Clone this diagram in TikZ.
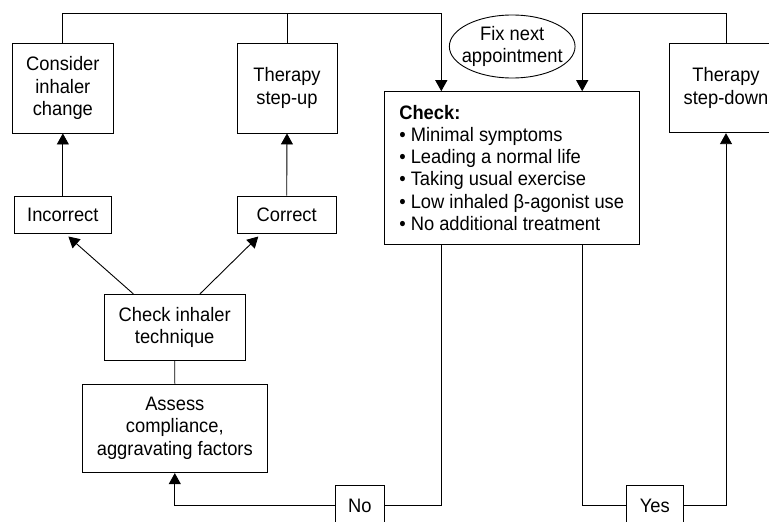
\documentclass[tikz,border=0pt]{standalone}
\usepackage{fontspec}
\setmainfont{Liberation Sans}[FakeStretch=0.94]
\usetikzlibrary{arrows.meta,shapes.geometric,calc}
\begin{document}
\begin{tikzpicture}[x=1pt,y=-1pt,
  every node/.style={font=\fontsize{19.5}{22.3}\selectfont, line width=0.9pt, inner sep=0pt},
  box/.style={draw, rectangle, align=center},
  conn/.style={line width=0.9pt},
  arr/.style={conn, -{Triangle[length=11pt,width=12pt]}}]
\useasboundingbox (0,0) rectangle (769,522);
\clip (0,0) rectangle (769,522);

% boxes
\node[box, minimum width=100.3pt, minimum height=90pt] (cons) at (62.85,88) {Consider\\inhaler\\change};
\node[box, minimum width=100pt, minimum height=90pt] (stu) at (287,88) {Therapy\\step-up};
\node[box, minimum width=97.7pt, minimum height=37.3pt] (inc) at (62.85,214.7) {Incorrect};
\node[box, minimum width=98.5pt, minimum height=37.3pt] (cor) at (286.7,214.7) {Correct};
\node[box, minimum width=255.3pt, minimum height=152.3pt, align=left] (chk) at (511.7,167.8)
  {\textbf{Check:}\\• Minimal symptoms\\• Leading a normal life\\• Taking usual exercise\\• Low inhaled β-agonist use\\• No additional treatment};
\node[draw, ellipse, inner xsep=-6pt, inner ysep=1pt, minimum width=125.7pt, minimum height=63pt, align=center] (fix) at (512.2,46.5) {Fix next\\appointment};
\node[box, minimum width=113.4pt, minimum height=89.7pt] (std) at (726,87.85) {Therapy\\step-down};
\node[box, minimum width=140.7pt, minimum height=66.4pt] (ci) at (174.7,327.5) {Check inhaler\\technique};
\node[box, minimum width=185pt, minimum height=88.7pt] (asm) at (174.8,428.3) {Assess\\compliance,\\aggravating factors};
\node[box, minimum width=48.3pt, minimum height=41.4pt] (no) at (359.9,505.7) {No};
\node[box, minimum width=57.3pt, minimum height=41.4pt] (yes) at (654.7,505.7) {Yes};

% connectors
\draw[arr] (cons.north) -- ++(0,-29) -| ($(chk.north west)+(57.7,0)$);
\draw[conn] (stu.north) -- ++(0,-29);
\draw[arr] (std.north) -- ++(0,-29) -| ($(chk.north east)+(-57.6,0)$);
\draw[conn] ($(chk.south west)+(57.7,0)$) |- (no.east);
\draw[arr] (no.west) -| (asm.south);
\draw[conn] ($(chk.south east)+(-57.6,0)$) |- (yes.west);
\draw[arr] (yes.east) -| (std.south);
\draw[conn] (ci.south) -- (asm.north);
\draw[arr] ($(ci.north)+(-41.4,0)$) -- ($(inc.south)+(5.5,2.7)$);
\draw[arr] ($(ci.north)+(25.3,0)$) -- ($(cor.south)+(-28.4,2.7)$);
\draw[arr] (inc.north) -- (cons.south);
\draw[arr] (cor.north) -- (stu.south);
\end{tikzpicture}
\end{document}
